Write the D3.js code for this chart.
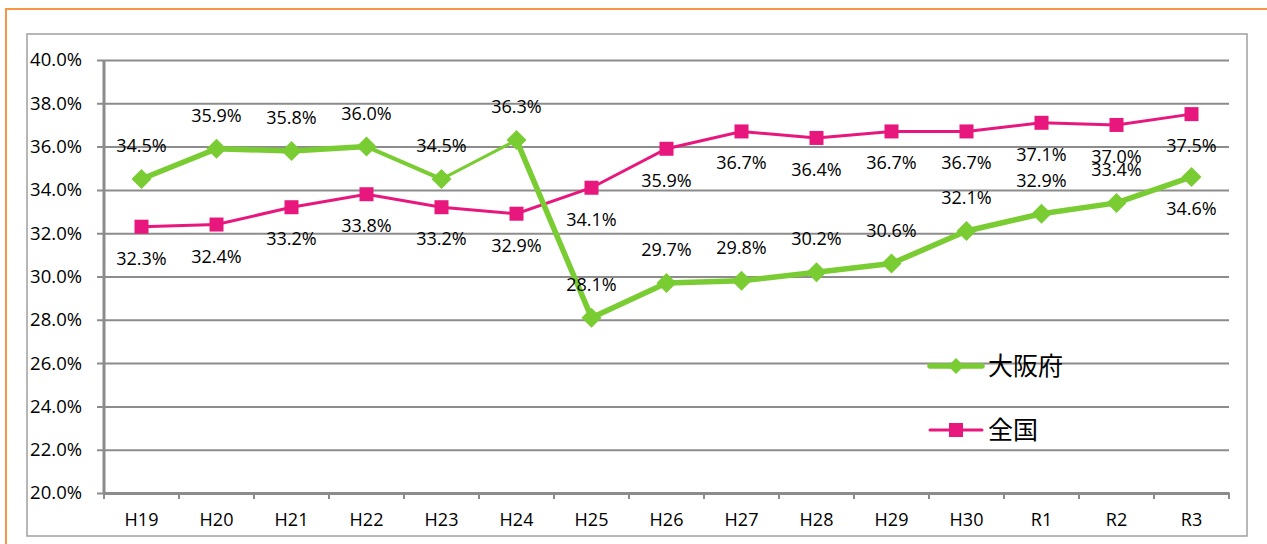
<!DOCTYPE html>
<html>
<head>
<meta charset="utf-8">
<script src="https://cdn.jsdelivr.net/npm/d3@7"></script>
<style>
  body { margin: 0; background: #fff; }
  svg { display: block; }
</style>
</head>
<body>
<svg id="chart" width="1267" height="544"></svg>
<script>
// data
const years = ['H19','H20','H21','H22','H23','H24','H25','H26','H27','H28','H29','H30','R1','R2','R3'];
const osaka = [34.5, 35.9, 35.8, 36.0, 34.5, 36.3, 28.1, 29.7, 29.8, 30.2, 30.6, 32.1, 32.9, 33.4, 34.6];
const national = [32.3, 32.4, 33.2, 33.8, 33.2, 32.9, 34.1, 35.9, 36.7, 36.4, 36.7, 36.7, 37.1, 37.0, 37.5];
const yTicks = [20, 22, 24, 26, 28, 30, 32, 34, 36, 38, 40];

const GREEN = '#79cc32';
const PINK = '#e8177d';
const GRID = '#8c8c8c';
const FONT = '"Open Sans", "Noto Sans", sans-serif';

const svg = d3.select('#chart');

// orange outer frame
svg.append('path')
    .attr('d', 'M6,544 L6,9 L1267,9')
    .attr('fill', 'none')
    .attr('stroke', '#f79646')
    .attr('stroke-width', 2);

// chart area border
svg.append('rect')
    .attr('x', 27).attr('y', 34)
    .attr('width', 1220).attr('height', 502)
    .attr('fill', 'none')
    .attr('stroke', '#a0a0a0')
    .attr('stroke-width', 1.5);

const plot = {left: 104, right: 1229, top: 60, bottom: 493};

const x = d3.scaleBand().domain(years).range([plot.left, plot.right]);
const y = d3.scaleLinear().domain([20, 40]).range([plot.bottom, plot.top]);
const cx = d => x(d) + x.bandwidth() / 2;

// gridlines + y axis
const yAxis = d3.axisLeft(y)
    .tickValues(yTicks)
    .tickSize(-(plot.right - plot.left))
    .tickPadding(14)
    .tickFormat(d => d.toFixed(1) + '%');

const gy = svg.append('g')
    .attr('transform', `translate(${plot.left},0)`)
    .call(yAxis);
gy.select('.domain').remove();
gy.selectAll('.tick line')
    .attr('x1', -7)
    .attr('stroke', GRID)
    .attr('stroke-width', 2);
gy.selectAll('.tick text')
    .attr('x', -22)
    .attr('font-family', FONT)
    .attr('font-size', 18.5)
    .attr('fill', '#000');

// vertical axis line
svg.append('line')
    .attr('x1', plot.left).attr('x2', plot.left)
    .attr('y1', plot.top).attr('y2', plot.bottom)
    .attr('stroke', GRID).attr('stroke-width', 3);

// x axis
const xAxis = d3.axisBottom(x).tickSize(0).tickPadding(20);
const gx = svg.append('g')
    .attr('transform', `translate(0,${plot.bottom})`)
    .call(xAxis);
gx.select('.domain')
    .attr('stroke', GRID).attr('stroke-width', 3);
gx.selectAll('.tick text')
    .attr('font-family', FONT)
    .attr('font-size', 18)
    .attr('fill', '#000');
// tick marks at band boundaries
svg.append('g').selectAll('line')
    .data(years.concat(['end']))
    .join('line')
    .attr('x1', (d, i) => plot.left + i * x.bandwidth())
    .attr('x2', (d, i) => plot.left + i * x.bandwidth())
    .attr('y1', plot.bottom)
    .attr('y2', plot.bottom + 6)
    .attr('stroke', GRID).attr('stroke-width', 2);

// national line (pink)
const line = d3.line().x((d, i) => cx(years[i])).y(d => y(d));
svg.append('path')
    .datum(national)
    .attr('d', line)
    .attr('fill', 'none')
    .attr('stroke', PINK)
    .attr('stroke-width', 3);
svg.append('g').selectAll('rect')
    .data(national)
    .join('rect')
    .attr('x', (d, i) => cx(years[i]) - 7)
    .attr('y', d => y(d) - 7)
    .attr('width', 14).attr('height', 14)
    .attr('fill', PINK);

// osaka line (green) - segment widths vary slightly in original
const segWidth = [5.5, 5.5, 5.5, 4, 3, 5.5, 5.5, 5.5, 5.5, 5.5, 5.5, 5.5, 5.5, 5.5];
svg.append('g').selectAll('line')
    .data(d3.pairs(osaka))
    .join('line')
    .attr('x1', (d, i) => cx(years[i]))
    .attr('y1', d => y(d[0]))
    .attr('x2', (d, i) => cx(years[i + 1]))
    .attr('y2', d => y(d[1]))
    .attr('stroke', GREEN)
    .attr('stroke-linecap', 'round')
    .attr('stroke-width', (d, i) => segWidth[i]);
const diamond = d3.symbol().type(d3.symbolSquare).size(200);
svg.append('g').selectAll('path')
    .data(osaka)
    .join('path')
    .attr('d', diamond)
    .attr('transform', (d, i) => `translate(${cx(years[i])},${y(d)}) rotate(45)`)
    .attr('fill', GREEN);

// data labels: osaka above (last one below), national below
const labels = svg.append('g')
    .attr('font-family', FONT)
    .attr('font-size', 18)
    .attr('fill', '#000')
    .attr('text-anchor', 'middle');
labels.selectAll('.lo')
    .data(osaka)
    .join('text')
    .attr('class', 'lo')
    .attr('x', (d, i) => cx(years[i]))
    .attr('y', (d, i) => i === osaka.length - 1 ? y(d) + 38 : y(d) - 27)
    .text(d => d.toFixed(1) + '%');
labels.selectAll('.ln')
    .data(national)
    .join('text')
    .attr('class', 'ln')
    .attr('x', (d, i) => cx(years[i]))
    .attr('y', d => y(d) + 38)
    .text(d => d.toFixed(1) + '%');

// legend
const legend = svg.append('g');
const series = [
    {name: '大阪府', color: GREEN, y: 366, marker: 'diamond', w: 5.5},
    {name: '全国', color: PINK, y: 430, marker: 'square', w: 3}
];
series.forEach(s => {
    legend.append('line')
        .attr('x1', 930).attr('x2', 982)
        .attr('y1', s.y).attr('y2', s.y)
        .attr('stroke', s.color)
        .attr('stroke-width', s.w)
        .attr('stroke-linecap', 'round');
    if (s.marker === 'diamond') {
        legend.append('path')
            .attr('d', d3.symbol().type(d3.symbolSquare).size(130))
            .attr('transform', `translate(956,${s.y}) rotate(45)`)
            .attr('fill', s.color);
    } else {
        legend.append('rect')
            .attr('x', 949).attr('y', s.y - 7)
            .attr('width', 14).attr('height', 14)
            .attr('fill', s.color);
    }
    legend.append('text')
        .attr('x', 988).attr('y', s.y + 9)
        .attr('font-family', '"Noto Sans CJK JP", sans-serif')
        .attr('font-size', 25)
        .attr('fill', '#000')
        .text(s.name);
});
</script>
</body>
</html>
